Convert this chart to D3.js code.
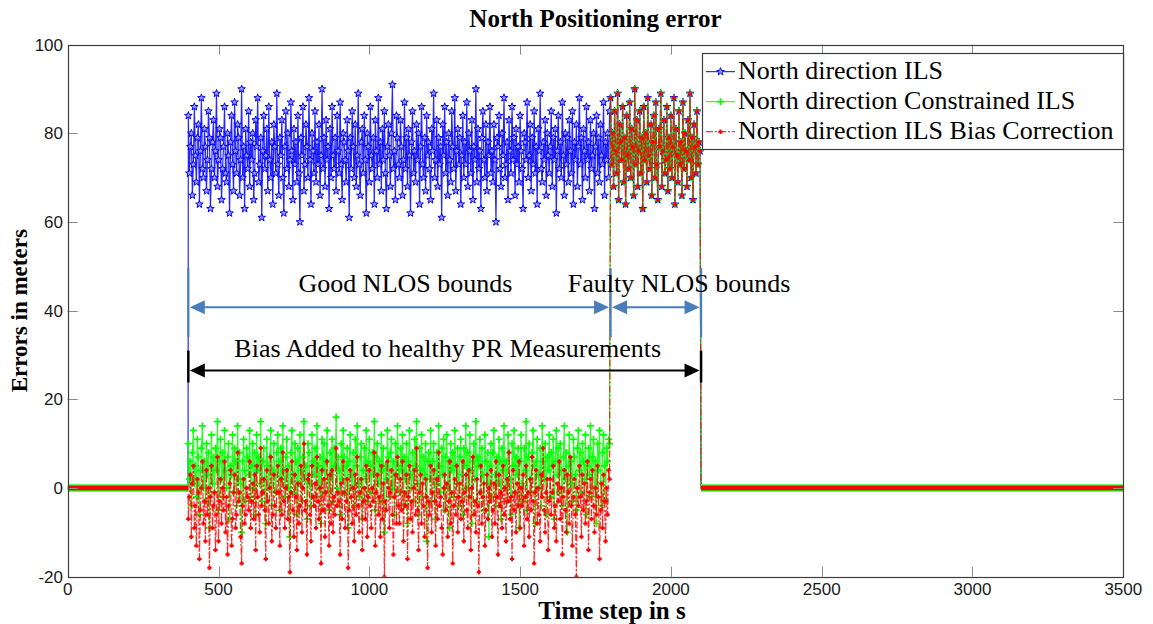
<!DOCTYPE html>
<html><head><meta charset="utf-8">
<script src="https://cdn.jsdelivr.net/npm/d3@7"></script>
<style>body{margin:0;background:#fff}svg{display:block}</style>
</head><body><svg id="c" width="1153" height="624"></svg>
<script>
// ---------------- data ----------------
const xTicks = [0, 500, 1000, 1500, 2000, 2500, 3000, 3500];
const yTicks = [-20, 0, 20, 40, 60, 80, 100];
const seriesNames = ["North direction ILS", "North direction Constrained ILS", "North direction ILS Bias Correction"];
const zeroBefore = [0, 399];      // time span with zero error
const zeroAfter = [2100, 3500];   // time span with zero error
const phase1Span = [400, 1800];   // good NLOS bounds
const phase2Span = [1800, 2100];  // faulty NLOS bounds

const ilsPhase1 = [
84,71,77,80,66,73,86,75,69,79,82,64,76,88,72,70,81,77,67,74,85,79,63,72,78,83,70,76,89,68,
74,81,79,65,72,77,86,71,69,80,75,62,78,84,73,67,87,76,71,82,79,66,74,90,70,77,63,81,75,72,
85,68,78,74,80,65,71,83,77,88,69,73,79,61,76,84,72,75,81,67,86,74,70,78,64,82,77,71,89,73,
66,79,75,83,70,62,77,85,72,80,68,74,87,76,65,81,73,78,69,84,71,60,79,75,86,67,73,82,77,70,
88,74,64,80,76,71,85,69,78,73,82,66,75,90,72,79,68,83,74,77,63,81,70,86,75,72,79,67,84,76,
71,87,73,65,80,78,74,69,83,76,61,79,72,85,77,70,82,68,75,89,73,66,78,81,71,84,74,62,80,77,
69,86,75,72,79,64,83,76,70,88,73,78,67,81,74,85,71,63,77,82,75,68,80,91,72,76,65,84,79,73,
70,83,77,66,74,87,72,79,68,81,75,62,78,85,71,76,69,82,74,80,64,77,86,73,70,79,67,84,75,78,
72,65,81,76,89,70,74,83,68,79,73,77,61,82,75,86,71,78,66,80,74,69,85,77,72,88,67,76,81,73,
79,64,75,84,70,78,73,87,68,80,76,71,83,65,77,74,90,69,81,72,76,63,79,85,74,70,82,67,78,75,
86,71,76,69,82,74,60,79,77,84,72,68,80,75,88,70,73,78,65,83,76,71,86,74,79,66,81,73,77,69,
84,76,72,63,80,78,74,87,70,75,82,67,79,73,85,71,77,64,81,76,89,72,69,78,74,83,66,80,75,71,
77,85,68,79,74,81,62,76,84,72,78,70,87,75,66,80,73,79,69,83,76,71,85,64,78,74,82,68,77,88,
73,79,65,81,76,70,86,74,78,67,83,72,75,80,63,77,84,71,79,69,82,75,73,87,66,78,74,80,70,85];

const cilsPhase1 = [
10,2,6,-4,8,13,1,5,-2,11,7,-6,4,9,14,0,6,-3,10,3,8,-9,5,12,1,7,-1,9,4,15,
-5,6,11,2,8,-2,13,4,0,7,10,-7,5,3,12,-1,9,6,-4,14,2,8,1,-10,6,11,4,-3,9,7,
3,13,-2,5,10,0,8,-6,12,4,7,1,15,-3,6,9,2,-8,11,5,0,7,13,-4,4,10,3,-1,8,12,
6,-5,9,2,14,4,-2,7,11,0,5,-11,8,13,3,-1,10,6,-6,9,1,12,4,-3,7,15,2,5,-7,10,
8,1,-4,12,6,3,9,-2,14,5,0,7,-8,11,4,10,-1,6,13,2,-5,8,3,11,-3,9,5,16,0,7,
4,-6,10,2,13,7,-1,5,9,-9,6,12,3,0,8,-4,11,5,14,1,-2,7,10,-7,4,9,2,13,-3,6,
11,5,-1,8,3,15,-5,7,10,1,6,-3,12,4,9,-10,5,2,13,7,-2,8,11,0,6,-6,10,3,14,5,
-1,9,4,12,-4,7,2,10,-8,6,13,3,0,8,-3,11,5,15,1,-6,9,4,12,-2,7,3,10,-12,6,8,
2,13,-3,6,10,4,-7,8,1,14,5,-1,9,3,11,-5,7,12,0,6,-9,10,4,8,-2,13,5,1,9,-4,
7,11,3,-6,9,5,14,0,8,-2,12,4,-8,6,10,2,15,-3,7,5,11,-1,9,3,-5,12,6,1,8,-11,
5,10,-2,8,13,3,-4,7,1,11,6,-7,9,4,14,0,6,-3,12,8,2,-6,10,5,13,-1,7,3,9,-9,
6,12,1,-3,9,4,15,-5,7,10,2,-1,8,13,5,-8,6,11,3,0,9,-4,14,6,2,10,-6,7,4,12,
-2,8,5,11,-7,6,13,3,9,-1,10,4,-4,7,14,2,8,-10,5,12,1,6,-3,11,7,3,-5,9,13,4,
8,-1,10,6,2,12,-6,5,9,3,14,-2,7,11,0,6,-8,10,4,13,1,-4,8,12,5,-3,9,6,11,10];

const biasPhase1 = [
-7,-2,3,-11,1,5,-9,-4,-13,2,-1,-16,-5,0,6,-8,-3,-12,4,-6,0,-18,-2,5,-9,-4,-1,-14,-6,7,
-12,-3,2,-8,0,-5,6,-10,-2,-15,-4,1,4,-13,-7,-1,3,-9,-6,8,-3,-1,-11,-17,-4,2,-8,-6,0,-2,
-5,6,-9,-3,1,-7,3,-14,5,-2,-6,-10,9,-4,-1,2,-5,-16,4,-3,-8,0,7,-12,-6,3,-4,-9,-1,5,
-1,-13,2,-6,8,-3,-9,0,4,-7,-2,-19,-1,6,-5,-11,3,-2,-14,1,-8,-4,5,-10,0,10,-5,-3,-15,2,
3,-6,-12,5,-2,-4,1,-9,7,-3,-7,0,-17,4,-5,2,-11,-1,6,-4,-13,3,-8,4,-10,-2,-6,9,-4,-1,
-3,-15,1,-7,6,-1,-9,-3,2,-18,-5,4,-2,-8,0,-12,3,-6,7,-4,-10,-1,2,-14,-3,0,-7,5,-11,-2,
4,-4,-9,0,-3,8,-13,-1,3,-6,-2,-11,5,-7,1,-20,-3,-5,6,0,-9,-1,4,-6,-15,-2,3,-8,7,-4,
-8,2,-5,6,-12,-1,-4,3,-16,-2,5,-7,-3,-10,0,4,-6,9,-5,-14,-1,3,-8,1,-4,-11,2,-2,-18,-3,
-6,5,-10,-1,4,-3,-13,2,-7,8,-4,-2,-9,-15,0,3,-5,1,-11,-3,6,-8,-1,-17,-4,2,-6,5,-10,-2,
1,-7,-3,6,-12,-1,3,-5,-9,4,-2,-14,0,7,-6,-3,-10,2,-4,-19,-1,5,-8,-2,1,-13,-5,3,-7,0,
-3,4,-11,-5,1,-8,6,-2,-15,3,-4,-1,-9,5,-6,0,-12,2,-3,8,-7,-2,-16,4,-5,-1,-10,1,-4,6,
-9,0,-4,3,-13,-2,5,-7,-1,-11,2,-5,7,-3,-17,-1,4,-8,0,-6,-12,3,-2,9,-5,-10,-1,2,-14,-3,
2,-6,-1,5,-9,-4,-12,1,-3,6,-7,0,-15,-2,4,-5,-10,3,-1,-8,7,-4,-13,-2,2,-6,-20,0,-4,5,
-2,-11,3,-5,1,-8,-3,6,-14,-1,2,-7,4,-4,-10,0,-6,5,-2,-16,-5,1,-9,3,-3,-12,0,-6,4,2];

// all three estimators coincide during the faulty-bounds interval
const allPhase2 = [
88,73,80,68,85,76,71,89,65,82,78,74,86,69,79,64,84,75,72,87,70,81,77,66,90,73,83,68,76,85,
71,79,63,86,74,80,69,88,75,72,82,66,78,84,70,87,73,65,81,77,89,68,76,83,71,74,86,67,79,72,
84,70,77,88,64,81,75,69,85,73,78,66,87,72,80,76,68,83,74,89,70,79,65,82,77,71,85,73,78,76];

// annotation (data units)
const boundTimes = [400, 1800, 2100];
const biasTimes = [400, 2100];
const annoText = ["Good NLOS bounds", "Faulty NLOS bounds", "Bias Added to healthy PR Measurements"];

// ---------------- layout ----------------
const L = 67.7, R = 1123.3, T = 44.7, B = 576.7;
const svg = d3.select("#c");
const x = d3.scaleLinear().domain([0, 3500]).range([L, R]);
const y = d3.scaleLinear().domain([-20, 100]).range([B, T]);

svg.append("defs").append("clipPath").attr("id", "clip")
  .append("rect").attr("x", L).attr("y", T).attr("width", R - L).attr("height", B - T);

function buildNoisy(p1, p2) {
  const pts = [];
  const s1 = (phase1Span[1] - phase1Span[0]) / p1.length;
  p1.forEach((v, i) => pts.push([phase1Span[0] + i * s1, v]));
  const s2 = (phase2Span[1] - phase2Span[0]) / p2.length;
  p2.forEach((v, i) => pts.push([phase2Span[0] + i * s2, v]));
  return pts;
}
function buildFull(noisy) {
  return [[zeroBefore[0], 0], [zeroBefore[1], 0], ...noisy, [zeroAfter[0], 0], [zeroAfter[1], 0]];
}

const colors = ["#0000ff", "#00ff00", "#ff0000"];
const seriesData = [
  buildNoisy(ilsPhase1, allPhase2),
  buildNoisy(cilsPhase1, allPhase2),
  buildNoisy(biasPhase1, allPhase2)
];

const line = d3.line().x(d => x(d[0])).y(d => y(d[1]));
const plot = svg.append("g").attr("clip-path", "url(#clip)");

function starPath(r) {
  const pts = [];
  for (let k = 0; k < 10; k++) {
    const a = -Math.PI / 2 + k * Math.PI / 5;
    const rr = k % 2 === 0 ? r : r * 0.4;
    pts.push([rr * Math.cos(a), rr * Math.sin(a)]);
  }
  return "M" + pts.map(p => p[0].toFixed(2) + "," + p[1].toFixed(2)).join("L") + "Z";
}
const plusPath = r => `M${-r},0H${r}M0,${-r}V${r}`;

function drawMarker(g, i, px, py) {
  if (i === 0) {
    g.append("path").attr("d", starPath(4)).attr("transform", `translate(${px},${py})`)
      .attr("fill", "#a0a0ff").attr("stroke", colors[0]).attr("stroke-width", 1);
  } else if (i === 1) {
    g.append("path").attr("d", plusPath(3.5)).attr("transform", `translate(${px},${py})`)
      .attr("fill", "none").attr("stroke", colors[1]).attr("stroke-width", 1.7);
  } else {
    g.append("path").attr("d", plusPath(2.2)).attr("transform", `translate(${px},${py})`)
      .attr("fill", "none").attr("stroke", colors[2]).attr("stroke-width", 2);
  }
}

seriesData.forEach((noisy, i) => {
  const g = plot.append("g");
  g.append("path").datum(buildFull(noisy)).attr("d", line)
    .attr("fill", "none").attr("stroke", colors[i]).attr("stroke-width", 1.2)
    .attr("stroke-opacity", 0.85)
    .attr("stroke-dasharray", i === 2 ? "7,2,2,2" : null);
  noisy.forEach(d => drawMarker(g, i, x(d[0]), y(d[1])));
});

// zero bands (dense markers at every step appear as thick bands)
[zeroBefore, zeroAfter].forEach(span => {
  const seg = [[span[0], 0], [span[1], 0]];
  plot.append("path").datum(seg).attr("d", line).attr("stroke", colors[0]).attr("stroke-width", 3).attr("fill", "none");
  plot.append("path").datum(seg).attr("d", line).attr("stroke", "#80ff80").attr("stroke-width", 8).attr("fill", "none");
  plot.append("path").datum(seg).attr("d", line).attr("stroke", colors[1]).attr("stroke-width", 6.5).attr("fill", "none");
  plot.append("path").datum(seg).attr("d", line).attr("stroke", colors[2]).attr("stroke-width", 4.5).attr("fill", "none");
});

// ---------------- axes ----------------
const tickLen = 10;
const axG = svg.append("g");
xTicks.forEach(t => {
  const px = Math.round(x(t)) + 0.5;
  if (t > 0 && t < 3500) {
    axG.append("line").attr("x1", px).attr("x2", px).attr("y1", B).attr("y2", B - tickLen).attr("stroke", "#8c8c8c");
    axG.append("line").attr("x1", px).attr("x2", px).attr("y1", T).attr("y2", T + tickLen).attr("stroke", "#8c8c8c");
  }
  axG.append("text").attr("x", x(t)).attr("y", 595).attr("text-anchor", "middle")
    .attr("font-family", "Liberation Sans, Arial, sans-serif").attr("font-size", 17).attr("fill", "#1a1a1a").text(t);
});
yTicks.forEach(t => {
  const py = Math.round(y(t)) + 0.5;
  if (t > -20 && t < 100) {
    axG.append("line").attr("x1", L).attr("x2", L + tickLen).attr("y1", py).attr("y2", py).attr("stroke", "#8c8c8c");
    axG.append("line").attr("x1", R).attr("x2", R - tickLen).attr("y1", py).attr("y2", py).attr("stroke", "#8c8c8c");
  }
  axG.append("text").attr("x", 63).attr("y", y(t) + 6).attr("text-anchor", "end")
    .attr("font-family", "Liberation Sans, Arial, sans-serif").attr("font-size", 17).attr("fill", "#1a1a1a").text(t);
});
axG.append("rect").attr("x", Math.round(L) + 0.5).attr("y", Math.round(T) + 0.5)
  .attr("width", Math.round(R) - Math.round(L)).attr("height", Math.round(B) - Math.round(T))
  .attr("fill", "none").attr("stroke", "#3c3c3c").attr("stroke-width", 1.2);

// ---------------- annotations ----------------
const annoBlue = "#4a7ebb";
const ann = svg.append("g");
const serif = "Liberation Serif, Times New Roman, serif";
function arrowHead(px, py, dir, color) {
  const len = 15, hw = 7;
  ann.append("path")
    .attr("d", `M${px},${py}L${px - dir * len},${py - hw}L${px - dir * len},${py + hw}Z`)
    .attr("fill", color);
}
function dblArrow(t0, t1, v, color) {
  const x0 = x(t0) + 1.5, x1 = x(t1) - 1.5, py = y(v);
  ann.append("line").attr("x1", x0 + 8).attr("x2", x1 - 8).attr("y1", py).attr("y2", py)
    .attr("stroke", color).attr("stroke-width", 2);
  arrowHead(x0, py, -1, color);
  arrowHead(x1, py, 1, color);
}
boundTimes.forEach(t => {
  ann.append("line").attr("x1", x(t)).attr("x2", x(t)).attr("y1", y(49.6)).attr("y2", y(34))
    .attr("stroke", annoBlue).attr("stroke-width", 2.2);
});
biasTimes.forEach(t => {
  ann.append("line").attr("x1", x(t)).attr("x2", x(t)).attr("y1", y(31)).attr("y2", y(23.8))
    .attr("stroke", "#000").attr("stroke-width", 2.5);
});
dblArrow(boundTimes[0], boundTimes[1], 40.8, annoBlue);
dblArrow(boundTimes[1], boundTimes[2], 40.8, annoBlue);
dblArrow(biasTimes[0], biasTimes[1], 26.5, "#000");
ann.append("text").attr("x", x(1120)).attr("y", y(44.2)).attr("text-anchor", "middle")
  .attr("font-family", serif).attr("font-size", 26).text(annoText[0]);
ann.append("text").attr("x", x(2027)).attr("y", y(44.2)).attr("text-anchor", "middle")
  .attr("font-family", serif).attr("font-size", 26).text(annoText[1]);
ann.append("text").attr("x", x(1260)).attr("y", y(29.6)).attr("text-anchor", "middle")
  .attr("font-family", serif).attr("font-size", 26).text(annoText[2]);

// ---------------- legend ----------------
const lg = svg.append("g");
lg.append("rect").attr("x", 702.5).attr("y", 53.5).attr("width", 421).attr("height", 96)
  .attr("fill", "#fff").attr("stroke", "#3c3c3c").attr("stroke-width", 1.2);
seriesNames.forEach((name, i) => {
  const cy = 71.7 + i * 30;
  lg.append("line").attr("x1", 706).attr("x2", 735).attr("y1", cy).attr("y2", cy)
    .attr("stroke", colors[i]).attr("stroke-width", 1)
    .attr("stroke-dasharray", i === 2 ? "7,2,2,2" : null);
  drawMarker(lg, i, 720.5, cy);
  lg.append("text").attr("x", 738).attr("y", cy + 7.5).attr("font-family", serif)
    .attr("font-size", 26).attr("fill", "#000").text(name);
});

// ---------------- titles ----------------
svg.append("text").attr("x", (L + R) / 2).attr("y", 27).attr("text-anchor", "middle")
  .attr("font-family", serif).attr("font-weight", "bold").attr("font-size", 25).text("North Positioning error");
svg.append("text").attr("x", 612).attr("y", 619).attr("text-anchor", "middle")
  .attr("font-family", serif).attr("font-weight", "bold").attr("font-size", 25).text("Time step in s");
svg.append("text").attr("transform", `translate(27,${(T + B) / 2}) rotate(-90)`).attr("text-anchor", "middle")
  .attr("font-family", serif).attr("font-weight", "bold").attr("font-size", 23).text("Errors in meters");
</script></body></html>
